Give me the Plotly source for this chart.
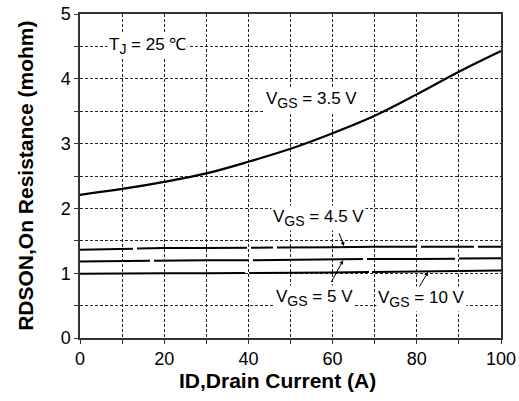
import plotly.graph_objects as go

id_a = [0, 10, 20, 30, 40, 50, 60, 70, 80, 90, 100]
r_35 = [2.21, 2.30, 2.41, 2.54, 2.72, 2.92, 3.16, 3.43, 3.76, 4.11, 4.43]
r_45 = [1.36, 1.38, 1.39, 1.39, 1.39, 1.40, 1.40, 1.41, 1.41, 1.41, 1.41]
r_5 = [1.18, 1.19, 1.20, 1.20, 1.20, 1.21, 1.21, 1.22, 1.22, 1.23, 1.23]
r_10 = [0.99, 1.00, 1.00, 1.00, 1.00, 1.01, 1.01, 1.02, 1.03, 1.04, 1.04]

font = "Liberation Sans, Arial, sans-serif"
fig = go.Figure()
fig.add_trace(go.Scatter(x=id_a, y=r_35, mode="lines", line=dict(color="black", width=2.2, shape="spline")))
fig.add_trace(go.Scatter(x=id_a, y=r_45, mode="lines", line=dict(color="black", width=2, dash="53px,4px,110px,4px,22px,4px,140px,4px")))
fig.add_trace(go.Scatter(x=id_a, y=r_5, mode="lines", line=dict(color="black", width=2, dash="70px,4px,95px,4px,110px,4px,88px,4px")))
fig.add_trace(go.Scatter(x=id_a, y=r_10, mode="lines", line=dict(color="black", width=2, dash="165px,4px,120px,3px")))

def sub(s):
    return "<sub><span style='font-size:14px'>" + s + "</span></sub>"

ann = dict(font=dict(family=font, size=17, color="black"), showarrow=False, bgcolor="white", borderpad=1)
fig.add_annotation(x=16, y=4.5, text="T" + sub("J") + " = 25 ℃", **ann)
fig.add_annotation(x=55, y=3.67, text="V" + sub("GS") + " = 3.5 V", **ann)
fig.add_annotation(x=56.6, y=1.85, text="V" + sub("GS") + " = 4.5 V", **ann)
fig.add_annotation(x=55.6, y=0.62, text="V" + sub("GS") + " = 5 V", **ann)
fig.add_annotation(x=81.2, y=0.60, text="V" + sub("GS") + " = 10 V", **ann)

arr = dict(showarrow=True, arrowhead=2, arrowsize=0.8, arrowwidth=1, arrowcolor="black", text="",
           axref="x", ayref="y")
fig.add_annotation(x=62.7, y=1.42, ax=61.4, ay=1.64, **arr)
fig.add_annotation(x=62.5, y=1.20, ax=59.5, ay=0.84, **arr)
fig.add_annotation(x=82.7, y=1.02, ax=80.4, ay=0.77, **arr)

# axis titles
tfont = dict(family=font, size=21, color="black")
fig.add_annotation(xref="paper", yref="paper", x=0.468, y=-0.132, text="<b>ID,Drain Current (A)</b>",
                   showarrow=False, font=tfont, xanchor="center", yanchor="middle")
fig.add_annotation(xref="paper", yref="paper", x=-0.131, y=0.5, text="<b>RDSON,On Resistance (mohm)</b>",
                   showarrow=False, font=tfont, textangle=-90, xanchor="center", yanchor="middle")

grid = dict(showgrid=True, gridcolor="#222", griddash="3px,2px", gridwidth=1)
axis_common = dict(showline=True, linecolor="#333", linewidth=1.5, mirror=True, automargin=False,
                   ticks="outside", ticklen=4, tickcolor="#333", zeroline=False,
                   tickfont=dict(family=font, size=18, color="black"), **grid)
fig.update_xaxes(range=[0, 100], dtick=20, minor=dict(dtick=10, ticks="outside", ticklen=4, tickcolor="#333", **grid),
                 **axis_common)
fig.update_yaxes(range=[0, 5], dtick=1, minor=dict(dtick=0.5, ticks="outside", ticklen=4, tickcolor="#333", **grid),
                 **axis_common)
fig.update_layout(width=519, height=401, margin=dict(l=80, r=18, t=14, b=63),
                  plot_bgcolor="white", paper_bgcolor="white", showlegend=False)
fig.write_html("out.html")
